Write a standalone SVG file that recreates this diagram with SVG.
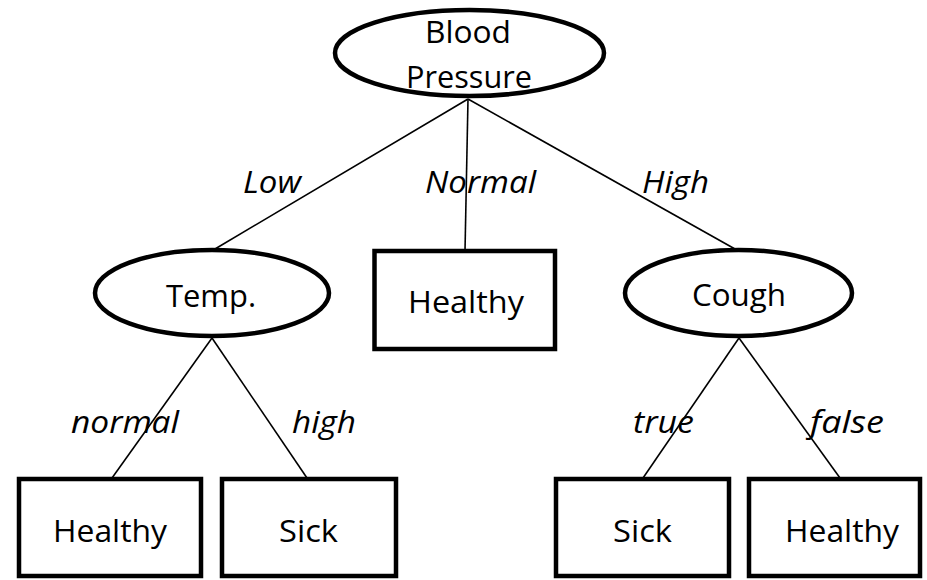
<svg xmlns="http://www.w3.org/2000/svg" width="927" height="580" viewBox="0 0 927 580">
<style>
.n{fill:#fff;stroke:#000;stroke-width:4.5}
.t{font-family:"Open Sans","Liberation Sans",sans-serif;font-size:31px;fill:#000}
.l{font-family:"Open Sans","Liberation Sans",sans-serif;font-size:31px;font-style:italic;fill:#000}
.c line{stroke:#000;stroke-width:1.6}
</style>
<rect width="927" height="580" fill="#fff"/>
<g class="c" id="connectors">
<line x1="468" y1="99" x2="215" y2="249"/>
<line x1="468" y1="99" x2="465" y2="251"/>
<line x1="468" y1="99" x2="735" y2="249"/>
<line x1="212" y1="338" x2="112" y2="478"/>
<line x1="212" y1="338" x2="307" y2="478"/>
<line x1="739" y1="338" x2="643" y2="478"/>
<line x1="739" y1="338" x2="840" y2="478"/>
</g>
<g id="root"><ellipse class="n" cx="469.5" cy="53" rx="134.5" ry="43"/>
<text class="t" x="425" y="43" textLength="86" lengthAdjust="spacingAndGlyphs">Blood</text>
<text class="t" x="406" y="88" textLength="126" lengthAdjust="spacingAndGlyphs">Pressure</text></g>
<g id="temp"><ellipse class="n" cx="212" cy="293" rx="117" ry="43"/>
<text class="t" x="166" y="307" textLength="90" lengthAdjust="spacingAndGlyphs">Temp.</text></g>
<g id="cough"><ellipse class="n" cx="738.5" cy="293" rx="113.5" ry="43"/>
<text class="t" x="692" y="306" textLength="94" lengthAdjust="spacingAndGlyphs">Cough</text></g>
<g id="healthy-mid"><rect class="n" x="374.5" y="251" width="180.5" height="98"/>
<text class="t" x="408" y="313" textLength="116" lengthAdjust="spacingAndGlyphs">Healthy</text></g>
<g id="healthy-left"><rect class="n" x="19" y="479" width="182" height="97"/>
<text class="t" x="53" y="542" textLength="114" lengthAdjust="spacingAndGlyphs">Healthy</text></g>
<g id="sick-left"><rect class="n" x="222" y="479" width="174" height="97"/>
<text class="t" x="279" y="542" textLength="59" lengthAdjust="spacingAndGlyphs">Sick</text></g>
<g id="sick-right"><rect class="n" x="556" y="479" width="173" height="97"/>
<text class="t" x="613" y="542" textLength="59" lengthAdjust="spacingAndGlyphs">Sick</text></g>
<g id="healthy-right"><rect class="n" x="749" y="479" width="171" height="97"/>
<text class="t" x="785" y="542" textLength="114" lengthAdjust="spacingAndGlyphs">Healthy</text></g>
<g id="labels">
<text class="l" x="243" y="193" textLength="58" lengthAdjust="spacingAndGlyphs">Low</text>
<text class="l" x="425" y="193" textLength="111" lengthAdjust="spacingAndGlyphs">Normal</text>
<text class="l" x="642" y="193" textLength="67" lengthAdjust="spacingAndGlyphs">High</text>
<text class="l" x="71" y="433" textLength="108" lengthAdjust="spacingAndGlyphs">normal</text>
<text class="l" x="292" y="433" textLength="64" lengthAdjust="spacingAndGlyphs">high</text>
<text class="l" x="633" y="433" textLength="61" lengthAdjust="spacingAndGlyphs">true</text>
<text class="l" x="810" y="433" textLength="74" lengthAdjust="spacingAndGlyphs">false</text>
</g>
</svg>
